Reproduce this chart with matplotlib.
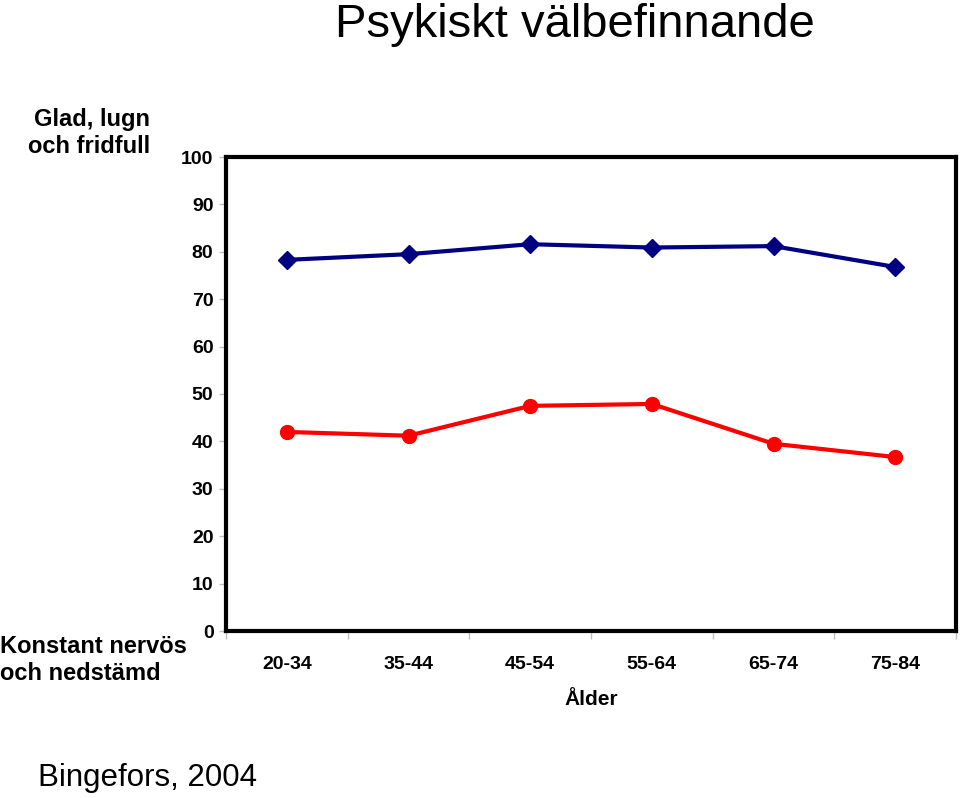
import matplotlib.pyplot as plt
from matplotlib import font_manager

ages = ["20-34", "35-44", "45-54", "55-64", "65-74", "75-84"]
glad = [78.3, 79.5, 81.6, 80.9, 81.2, 76.8]
nervos = [42.0, 41.2, 47.5, 47.9, 39.5, 36.7]
yticks = [0, 10, 20, 30, 40, 50, 60, 70, 80, 90, 100]

names = {f.name for f in font_manager.fontManager.ttflist}
narrow = "Liberation Sans Narrow" if "Liberation Sans Narrow" in names else "Liberation Sans"
plt.rcParams["font.family"] = ["Liberation Sans", "DejaVu Sans"]

fig = plt.figure(figsize=(9.6, 7.98), dpi=100)
ax = fig.add_axes([226 / 960, 1 - 631 / 798, 730 / 960, 474 / 798])

x = range(len(ages))
ax.plot(x, glad, color="#000080", lw=3, marker="D", ms=9, zorder=3)
ax.plot(x, nervos, color="#ff0000", lw=3, marker="o", ms=10, zorder=3)

ax.set_xlim(-0.5, len(ages) - 0.5)
ax.set_ylim(0, 100)
ax.set_yticks(yticks)
ax.set_yticklabels([str(v) for v in yticks], fontfamily=narrow, fontweight="bold", fontsize=14)
ax.set_xticks([i + 0.5 for i in range(-1, len(ages))])
ax.set_xticklabels([])
ax.set_xticks(list(x), minor=True)
ax.set_xticklabels(ages, minor=True, fontfamily=narrow, fontweight="bold", fontsize=14)
ax.tick_params(axis="x", which="major", length=6, color="#c0c0c0", width=1)
ax.tick_params(axis="x", which="minor", length=0, pad=18)
ax.tick_params(axis="y", length=5, width=1, pad=4, color="#c0c0c0")
ax.set_xlabel("Ålder", fontfamily=narrow, fontweight="bold", fontsize=15, labelpad=12)

for s in ax.spines.values():
    s.set_linewidth(3)
    s.set_color("black")

fig.text(575 / 960, 1 - 37 / 798, "Psykiskt välbefinnande", ha="center", va="baseline", fontsize=34)
fig.text(150 / 960, 1 - 133 / 798, "Glad, lugn\noch fridfull", ha="right", va="center",
         fontsize=17, fontweight="bold", linespacing=1.25)
fig.text(0 / 960, 1 - 660 / 798, "Konstant nervös\noch nedstämd", ha="left", va="center",
         fontsize=17, fontweight="bold", linespacing=1.25)
fig.text(38 / 960, 1 - 778 / 798, "Bingefors, 2004", ha="left", va="center", fontsize=22.5)

fig.savefig("out.png", dpi=100)
